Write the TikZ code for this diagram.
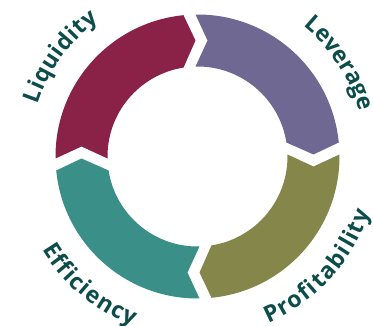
\documentclass[tikz,border=0pt]{standalone}
\usepackage{fontspec}
\usepackage{xcolor}
\usetikzlibrary{decorations.text}
\newfontfamily\labelfont{Open Sans}
\newcommand\labelstyle{\labelfont\bfseries\fontsize{23}{27}\selectfont}
\definecolor{liqred}{RGB}{138,34,71}
\definecolor{levpurple}{RGB}{111,104,146}
\definecolor{profolive}{RGB}{133,135,74}
\definecolor{effteal}{RGB}{58,143,136}
\definecolor{labelteal}{RGB}{12,77,75}

\begin{document}
\begin{tikzpicture}[x=1pt, y=1pt]
\tikzstyle{curvelabel} = [decorate, decoration={text along path, text align=fit to path, text color=labelteal}]

\useasboundingbox (-197.5,-169.5) rectangle (175.5,156.5);

% four arrow pieces of the ring, clockwise
\fill[liqred] (180.81:142pt) arc[start angle=180.81, end angle=95.66, radius=142pt]
  -- (90.99:116pt) -- (98.95:90pt) arc[start angle=98.95, end angle=181.27, radius=90pt]
  -- (175.07:116.4pt) -- cycle;
\fill[levpurple] (90.81:142pt) arc[start angle=90.81, end angle=5.66, radius=142pt]
  -- (0.99:116pt) -- (8.95:90pt) arc[start angle=8.95, end angle=91.27, radius=90pt]
  -- (85.07:116.4pt) -- cycle;
\fill[profolive] (0.81:142pt) arc[start angle=0.81, end angle=-84.34, radius=142pt]
  -- (-89.01:116pt) -- (-81.05:90pt) arc[start angle=-81.05, end angle=1.27, radius=90pt]
  -- (-4.93:116.4pt) -- cycle;
\fill[effteal] (-89.19:142pt) arc[start angle=-89.19, end angle=-174.34, radius=142pt]
  -- (-179.01:116pt) -- (-171.05:90pt) arc[start angle=-171.05, end angle=-88.73, radius=90pt]
  -- (-94.93:116.4pt) -- cycle;

% labels round the ring
\path[curvelabel, decoration={text={|\labelstyle|Liquidity}}]
  (162:168pt) arc[start angle=162, end angle=126, radius=168pt];
\path[curvelabel, decoration={text={|\labelstyle|Leverage}}]
  (51:168pt) arc[start angle=51, end angle=16, radius=168pt];
\path[curvelabel, decoration={text={|\labelstyle|Profitability}}]
  (293:181pt) arc[start angle=293, end angle=342, radius=181pt];
\path[curvelabel, decoration={text={|\labelstyle|Efficiency}}]
  (211:181pt) arc[start angle=211, end angle=249, radius=181pt];

\end{tikzpicture}
\end{document}
